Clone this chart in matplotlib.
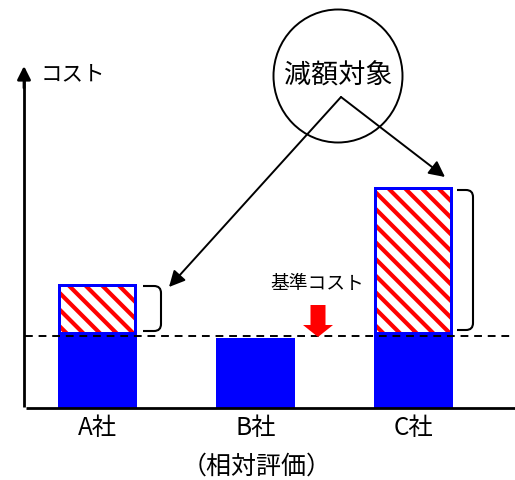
import numpy as np
import matplotlib.pyplot as plt
from matplotlib.patches import Ellipse, PathPatch
from matplotlib.path import Path

plt.rcParams['font.family'] = ['Noto Sans CJK JP', 'DejaVu Sans']
plt.rcParams['hatch.linewidth'] = 3.0

# -----------------------------
# data (cost units)
# -----------------------------
companies = ['A社', 'B社', 'C社']
base_cost = [76, 70, 76]          # blue part
total_cost = [124, 70, 221]       # blue + excess
reference_cost = 72               # 基準コスト

# -----------------------------
# figure: 1 data unit = 1 pixel
# -----------------------------
fig = plt.figure(figsize=(5.15, 4.8), dpi=100)
ax = fig.add_axes([0, 0, 1, 1])
ax.set_xlim(0, 515)
ax.set_ylim(-72, 408)
ax.axis('off')

x = 97.5 + 158 * np.arange(len(companies))
width = 79
pad = 3

# blue bars
ax.bar(x, total_cost, width=width, color='#0000ff', zorder=2)

# excess part (hatched) for the companies over the reference
for xi, b, t in zip(x, base_cost, total_cost):
    if t > b:
        ax.bar(xi, t - b - pad, bottom=b, width=width - 2 * pad,
               color='white', edgecolor='red', linewidth=0,
               hatch='\\\\', zorder=3)

# axes lines
ax.plot([24, 24], [1, 330], color='black', lw=2, solid_capstyle='butt')
ax.annotate('', xy=(24, 342), xytext=(24, 320),
            arrowprops=dict(arrowstyle='-|>', color='black', lw=2,
                            mutation_scale=20, shrinkA=0, shrinkB=0))
ax.plot([26, 515], [0, 0], color='black', lw=2, solid_capstyle='butt')
ax.text(41, 334, 'コスト', fontsize=15.5, ha='left', va='center')

# reference line
ax.plot([25, 515], [reference_cost, reference_cost], color='black',
        lw=1.4, linestyle=(0, (4, 3)), zorder=4)

# category labels
for xi, name in zip(x, companies):
    ax.text(xi, -20, name, fontsize=17.5, ha='center', va='center')
ax.text(257, -59, '（相対評価）', fontsize=18, ha='center', va='center')

# red arrow for the reference cost
ax.text(317, 124, '基準コスト', fontsize=13.5, ha='center', va='center')
ax.arrow(318, 103, 0, -32, width=15, head_width=30, head_length=12,
         length_includes_head=True, color='red', lw=0, zorder=5)


# brackets next to the excess parts
def bracket(x0, x1, y_bot, y_top, r=7):
    verts = [(x0, y_top), (x1 - r, y_top), (x1, y_top), (x1, y_top - r),
             (x1, y_bot + r), (x1, y_bot), (x1 - r, y_bot), (x0, y_bot)]
    codes = [Path.MOVETO, Path.LINETO, Path.CURVE3, Path.CURVE3,
             Path.LINETO, Path.CURVE3, Path.CURVE3, Path.LINETO]
    ax.add_patch(PathPatch(Path(verts, codes), fill=False,
                           edgecolor='black', lw=1.5))


bracket(143, 161, base_cost[0] + 1, total_cost[0] - 2)
bracket(457, 473, base_cost[2] + 2, total_cost[2] - 3)

# callout circle
ax.add_patch(Ellipse((338, 332), 129, 133, fill=False,
                     edgecolor='black', lw=1.4))
ax.text(338, 332, '減額対象', fontsize=19.5, ha='center', va='center')

apex = (341, 311)
for tip in [(169, 121), (445, 231)]:
    ax.annotate('', xy=tip, xytext=apex,
                arrowprops=dict(arrowstyle='-|>', color='black', lw=1.4,
                                mutation_scale=24, shrinkA=0, shrinkB=0))

fig.savefig('out.png', dpi=100)
